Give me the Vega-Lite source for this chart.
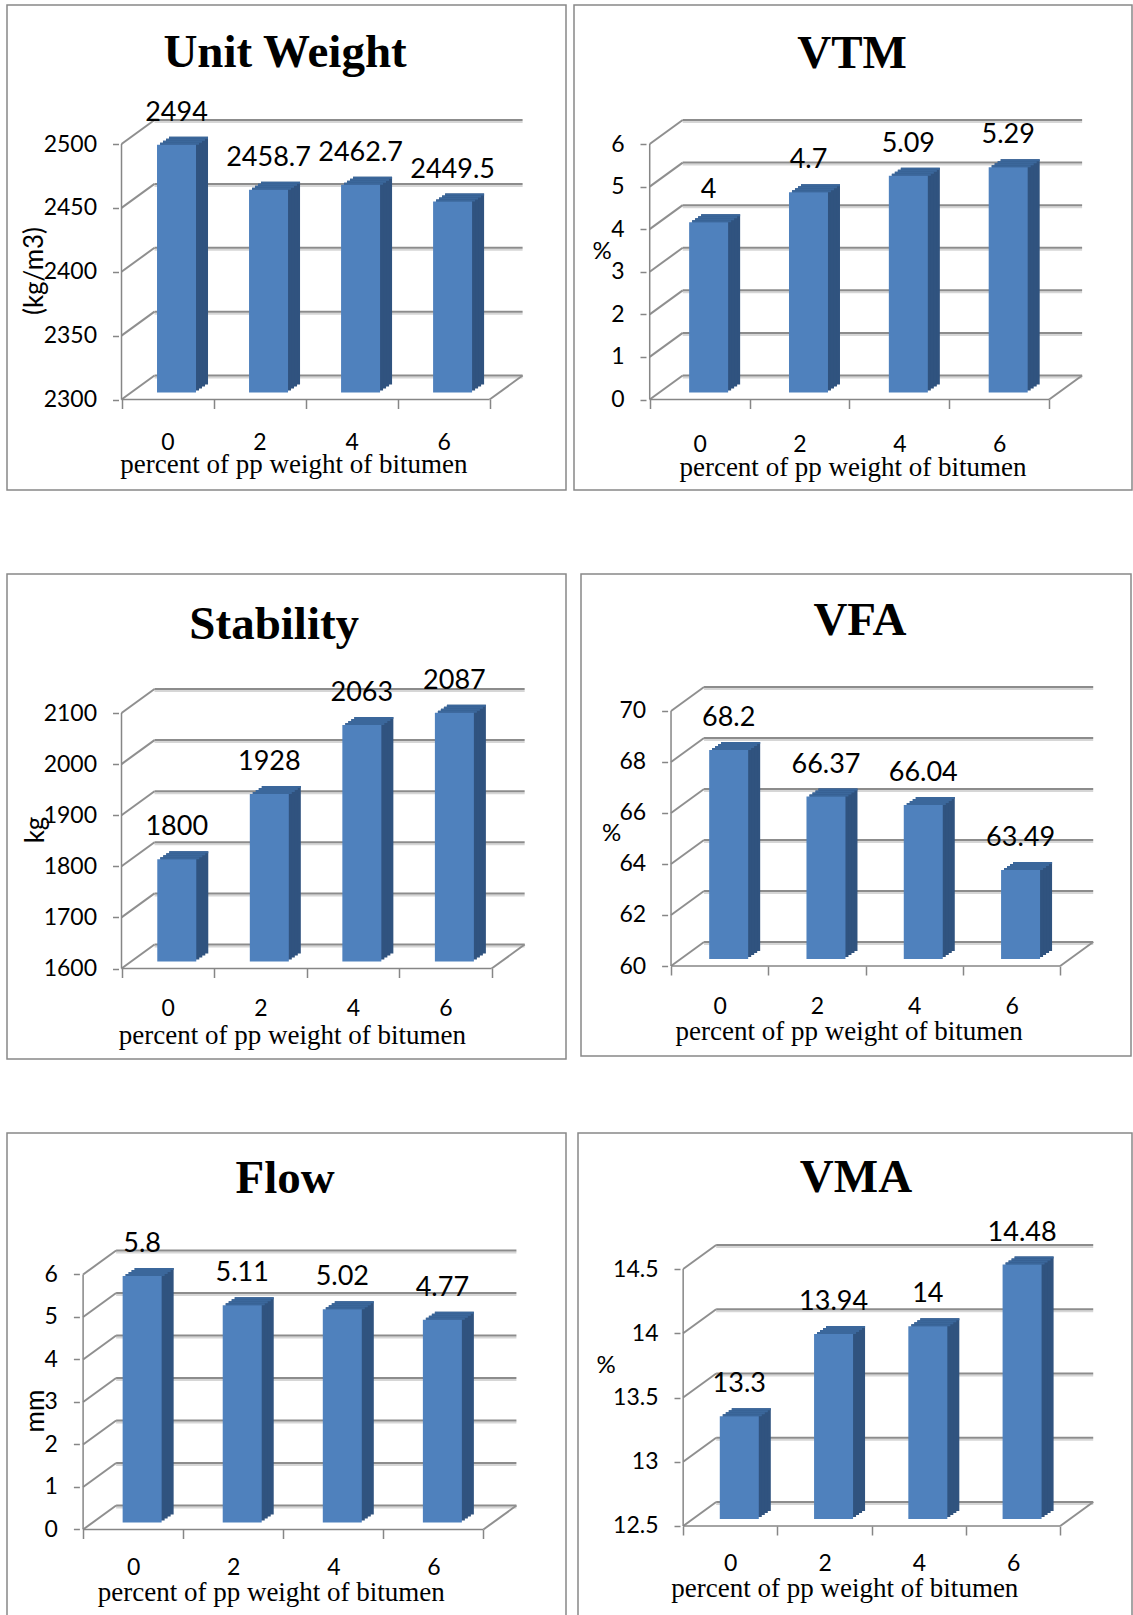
{
"$schema": "https://vega.github.io/schema/vega-lite/v6.json",
"background": "white",
"padding": {"left": 6, "top": 4, "right": 0, "bottom": 0},
"config": {
  "view": {"stroke": "#888888", "strokeWidth": 1.5},
  "axis": {"labelFont": "Lato", "labelFontSize": 23, "labelColor": "#000000", "tickColor": "#868686", "tickWidth": 1.5, "labelFlush": false, "labelOverlap": false}
},
"data": {"values": [
  {"chart": "Unit Weight", "pp": 0, "value": 2494},
  {"chart": "Unit Weight", "pp": 2, "value": 2458.7},
  {"chart": "Unit Weight", "pp": 4, "value": 2462.7},
  {"chart": "Unit Weight", "pp": 6, "value": 2449.5},
  {"chart": "VTM", "pp": 0, "value": 4},
  {"chart": "VTM", "pp": 2, "value": 4.7},
  {"chart": "VTM", "pp": 4, "value": 5.09},
  {"chart": "VTM", "pp": 6, "value": 5.29},
  {"chart": "Stability", "pp": 0, "value": 1800},
  {"chart": "Stability", "pp": 2, "value": 1928},
  {"chart": "Stability", "pp": 4, "value": 2063},
  {"chart": "Stability", "pp": 6, "value": 2087},
  {"chart": "VFA", "pp": 0, "value": 68.2},
  {"chart": "VFA", "pp": 2, "value": 66.37},
  {"chart": "VFA", "pp": 4, "value": 66.04},
  {"chart": "VFA", "pp": 6, "value": 63.49},
  {"chart": "Flow", "pp": 0, "value": 5.8},
  {"chart": "Flow", "pp": 2, "value": 5.11},
  {"chart": "Flow", "pp": 4, "value": 5.02},
  {"chart": "Flow", "pp": 6, "value": 4.77},
  {"chart": "VMA", "pp": 0, "value": 13.3},
  {"chart": "VMA", "pp": 2, "value": 13.94},
  {"chart": "VMA", "pp": 4, "value": 14},
  {"chart": "VMA", "pp": 6, "value": 14.48}
]},
"datasets": {"ticks": [
  {"chart": "Unit Weight", "t": 2300}, {"chart": "Unit Weight", "t": 2350}, {"chart": "Unit Weight", "t": 2400}, {"chart": "Unit Weight", "t": 2450}, {"chart": "Unit Weight", "t": 2500},
  {"chart": "VTM", "t": 0}, {"chart": "VTM", "t": 1}, {"chart": "VTM", "t": 2}, {"chart": "VTM", "t": 3}, {"chart": "VTM", "t": 4}, {"chart": "VTM", "t": 5}, {"chart": "VTM", "t": 6},
  {"chart": "Stability", "t": 1600}, {"chart": "Stability", "t": 1700}, {"chart": "Stability", "t": 1800}, {"chart": "Stability", "t": 1900}, {"chart": "Stability", "t": 2000}, {"chart": "Stability", "t": 2100},
  {"chart": "VFA", "t": 60}, {"chart": "VFA", "t": 62}, {"chart": "VFA", "t": 64}, {"chart": "VFA", "t": 66}, {"chart": "VFA", "t": 68}, {"chart": "VFA", "t": 70},
  {"chart": "Flow", "t": 0}, {"chart": "Flow", "t": 1}, {"chart": "Flow", "t": 2}, {"chart": "Flow", "t": 3}, {"chart": "Flow", "t": 4}, {"chart": "Flow", "t": 5}, {"chart": "Flow", "t": 6},
  {"chart": "VMA", "t": 12.5}, {"chart": "VMA", "t": 13}, {"chart": "VMA", "t": 13.5}, {"chart": "VMA", "t": 14}, {"chart": "VMA", "t": 14.5}
]},
"spacing": 82,
"vconcat": [
{"hconcat": [
{
 "width": 559, "height": 485,
 "transform": [{"filter": "datum.chart === 'Unit Weight'"}],
 "layer": [
  {"data": {"name": "ticks"}, "transform": [{"filter": "datum.chart === 'Unit Weight'"}],
   "mark": {"type": "rule", "color": "#d6d6d6", "strokeWidth": 2, "xOffset": 33, "x2Offset": 33, "yOffset": -22},
   "encoding": {
    "x": {"datum": -1, "type": "quantitative", "scale": {"domain": [-3.38, 8.5518], "nice": false, "zero": false},
          "axis": {"orient": "bottom", "offset": -90.5, "values": [-1,0,1,2,3,4,5,6,7], "domain": false, "grid": false, "tickSize": 9, "tickOpacity": {"condition": {"test": "datum.value % 2 === 0", "value": 0}, "value": 1}, "labelExpr": "datum.value % 2 === 0 ? datum.label : ''", "labelPadding": 23, "format": "~r", "title": null}},
    "x2": {"datum": 7},
    "y": {"field": "t", "type": "quantitative", "scale": {"domain": [2229.16, 2608.81], "nice": false, "zero": false},
          "axis": {"orient": "left", "offset": -111.5, "values": [2300,2350,2400,2450,2500], "domain": false, "grid": false, "tickSize": 6, "labelPadding": 16, "format": "~r", "title": null}}
   }},
  {"data": {"name": "ticks"}, "transform": [{"filter": "datum.chart === 'Unit Weight'"}],
   "mark": {"type": "rule", "color": "#8c8c8c", "strokeWidth": 2, "xOffset": 33, "x2Offset": 33, "yOffset": -24},
   "encoding": {"x": {"datum": -1, "type": "quantitative"}, "x2": {"datum": 7}, "y": {"field": "t", "type": "quantitative", "title": null}}},
  {"data": {"name": "ticks"}, "transform": [{"filter": "datum.chart === 'Unit Weight'"}],
   "mark": {"type": "point", "shape": "M0,0L33,-24", "size": 4, "filled": false, "color": "#8f8f8f", "strokeWidth": 2, "opacity": 1},
   "encoding": {"x": {"datum": -1, "type": "quantitative"}, "y": {"field": "t", "type": "quantitative", "title": null}}},
  {"data": {"name": "ticks"}, "transform": [{"filter": "datum.chart === 'Unit Weight' && datum.t === 2300"}],
   "mark": {"type": "point", "shape": "M0,0L33,-24", "size": 4, "filled": false, "color": "#8f8f8f", "strokeWidth": 2, "opacity": 1},
   "encoding": {"x": {"datum": 7, "type": "quantitative"}, "y": {"field": "t", "type": "quantitative", "title": null}}},
  {"data": {"name": "ticks"}, "transform": [{"filter": "datum.chart === 'Unit Weight' && datum.t === 2300"}],
   "mark": {"type": "rule", "color": "#868686", "strokeWidth": 1.5},
   "encoding": {"x": {"datum": -1, "type": "quantitative"}, "y": {"field": "t", "type": "quantitative", "title": null}, "y2": {"datum": 2500}}},
  {"data": {"name": "ticks"}, "transform": [{"filter": "datum.chart === 'Unit Weight' && datum.t === 2300"}],
   "mark": {"type": "rule", "color": "#868686", "strokeWidth": 1.5},
   "encoding": {"x": {"datum": -1, "type": "quantitative"}, "x2": {"datum": 7}, "y": {"field": "t", "type": "quantitative", "title": null}}},
  {"mark": {"type": "bar", "color": "#30537f", "size": 39, "xOffset": 21, "yOffset": -15, "y2Offset": -15},
   "encoding": {"x": {"field": "pp", "type": "quantitative", "title": null}, "y": {"field": "value", "type": "quantitative", "title": null}, "y2": {"datum": 2300}}},
  {"mark": {"type": "bar", "color": "#30537f", "size": 39, "xOffset": 18, "yOffset": -13, "y2Offset": -13},
   "encoding": {"x": {"field": "pp", "type": "quantitative", "title": null}, "y": {"field": "value", "type": "quantitative", "title": null}, "y2": {"datum": 2300}}},
  {"mark": {"type": "bar", "color": "#30537f", "size": 39, "xOffset": 15, "yOffset": -11, "y2Offset": -11},
   "encoding": {"x": {"field": "pp", "type": "quantitative", "title": null}, "y": {"field": "value", "type": "quantitative", "title": null}, "y2": {"datum": 2300}}},
  {"mark": {"type": "bar", "color": "#30537f", "size": 39, "xOffset": 12, "yOffset": -9, "y2Offset": -9},
   "encoding": {"x": {"field": "pp", "type": "quantitative", "title": null}, "y": {"field": "value", "type": "quantitative", "title": null}, "y2": {"datum": 2300}}},
  {"mark": {"type": "bar", "color": "#3b679b", "size": 39, "xOffset": 21, "yOffset": -15, "y2Offset": -13},
   "encoding": {"x": {"field": "pp", "type": "quantitative", "title": null}, "y": {"field": "value", "type": "quantitative", "title": null}, "y2": {"field": "value"}}},
  {"mark": {"type": "bar", "color": "#3b679b", "size": 39, "xOffset": 18, "yOffset": -13, "y2Offset": -11},
   "encoding": {"x": {"field": "pp", "type": "quantitative", "title": null}, "y": {"field": "value", "type": "quantitative", "title": null}, "y2": {"field": "value"}}},
  {"mark": {"type": "bar", "color": "#3b679b", "size": 39, "xOffset": 15, "yOffset": -11, "y2Offset": -9},
   "encoding": {"x": {"field": "pp", "type": "quantitative", "title": null}, "y": {"field": "value", "type": "quantitative", "title": null}, "y2": {"field": "value"}}},
  {"mark": {"type": "bar", "color": "#3b679b", "size": 39, "xOffset": 12, "yOffset": -9, "y2Offset": -7},
   "encoding": {"x": {"field": "pp", "type": "quantitative", "title": null}, "y": {"field": "value", "type": "quantitative", "title": null}, "y2": {"field": "value"}}},
  {"mark": {"type": "bar", "color": "#4f81bd", "size": 39, "xOffset": 9, "yOffset": -7, "y2Offset": -7},
   "encoding": {"x": {"field": "pp", "type": "quantitative", "title": null}, "y": {"field": "value", "type": "quantitative", "title": null}, "y2": {"datum": 2300}}},
  {"mark": {"type": "text", "font": "Lato", "fontSize": 27, "dx": 9, "dy": -39, "baseline": "middle", "color": "#000000"},
   "encoding": {"x": {"field": "pp", "type": "quantitative", "title": null}, "y": {"field": "value", "type": "quantitative", "title": null}, "text": {"field": "value", "type": "nominal"}}},
  {"transform": [{"filter": "datum.pp === 0"}],
   "mark": {"type": "text", "text": "Unit Weight", "font": "Liberation Serif", "fontWeight": "bold", "fontSize": 47, "align": "center", "baseline": "alphabetic", "color": "#000000"},
   "encoding": {"x": {"datum": 2.554, "type": "quantitative"}, "y": {"datum": 2559.89, "type": "quantitative"}}},
  {"transform": [{"filter": "datum.pp === 0"}],
   "mark": {"type": "text", "text": "(kg/m3)", "font": "Lato", "fontSize": 26, "angle": 270, "align": "center", "baseline": "middle", "color": "#000000"},
   "encoding": {"x": {"datum": -2.872, "type": "quantitative"}, "y": {"datum": 2400.59, "type": "quantitative"}}},
  {"transform": [{"filter": "datum.pp === 0"}],
   "mark": {"type": "text", "text": "percent of pp weight of bitumen", "font": "Liberation Serif", "fontSize": 27, "align": "center", "baseline": "alphabetic", "color": "#000000"},
   "encoding": {"x": {"datum": 2.746, "type": "quantitative"}, "y": {"datum": 2242.47, "type": "quantitative"}}}
 ]
},
{
 "width": 558, "height": 485,
 "transform": [{"filter": "datum.chart === 'VTM'"}],
 "layer": [
  {"data": {"name": "ticks"}, "transform": [{"filter": "datum.chart === 'VTM'"}],
   "mark": {"type": "rule", "color": "#d6d6d6", "strokeWidth": 2, "xOffset": 33, "x2Offset": 33, "yOffset": -22},
   "encoding": {
    "x": {"datum": -1, "type": "quantitative", "scale": {"domain": [-2.4163, 8.5599], "nice": false, "zero": false},
          "axis": {"orient": "bottom", "offset": -90.5, "values": [-1,0,1,2,3,4,5,6,7], "domain": false, "grid": false, "tickSize": 9, "tickOpacity": {"condition": {"test": "datum.value % 2 === 0", "value": 0}, "value": 1}, "labelExpr": "datum.value % 2 === 0 ? datum.label : ''", "labelPadding": 25, "format": "~r", "title": null}},
    "x2": {"datum": 7},
    "y": {"field": "t", "type": "quantitative", "scale": {"domain": [-2.1252, 9.2642], "nice": false, "zero": false},
          "axis": {"orient": "left", "offset": -72, "values": [0,1,2,3,4,5,6], "domain": false, "grid": false, "tickSize": 6, "labelPadding": 16, "format": "~r", "title": null}}
   }},
  {"data": {"name": "ticks"}, "transform": [{"filter": "datum.chart === 'VTM'"}],
   "mark": {"type": "rule", "color": "#8c8c8c", "strokeWidth": 2, "xOffset": 33, "x2Offset": 33, "yOffset": -24},
   "encoding": {"x": {"datum": -1, "type": "quantitative"}, "x2": {"datum": 7}, "y": {"field": "t", "type": "quantitative", "title": null}}},
  {"data": {"name": "ticks"}, "transform": [{"filter": "datum.chart === 'VTM'"}],
   "mark": {"type": "point", "shape": "M0,0L33,-24", "size": 4, "filled": false, "color": "#8f8f8f", "strokeWidth": 2, "opacity": 1},
   "encoding": {"x": {"datum": -1, "type": "quantitative"}, "y": {"field": "t", "type": "quantitative", "title": null}}},
  {"data": {"name": "ticks"}, "transform": [{"filter": "datum.chart === 'VTM' && datum.t === 0"}],
   "mark": {"type": "point", "shape": "M0,0L33,-24", "size": 4, "filled": false, "color": "#8f8f8f", "strokeWidth": 2, "opacity": 1},
   "encoding": {"x": {"datum": 7, "type": "quantitative"}, "y": {"field": "t", "type": "quantitative", "title": null}}},
  {"data": {"name": "ticks"}, "transform": [{"filter": "datum.chart === 'VTM' && datum.t === 0"}],
   "mark": {"type": "rule", "color": "#868686", "strokeWidth": 1.5},
   "encoding": {"x": {"datum": -1, "type": "quantitative"}, "y": {"field": "t", "type": "quantitative", "title": null}, "y2": {"datum": 6}}},
  {"data": {"name": "ticks"}, "transform": [{"filter": "datum.chart === 'VTM' && datum.t === 0"}],
   "mark": {"type": "rule", "color": "#868686", "strokeWidth": 1.5},
   "encoding": {"x": {"datum": -1, "type": "quantitative"}, "x2": {"datum": 7}, "y": {"field": "t", "type": "quantitative", "title": null}}},
  {"mark": {"type": "bar", "color": "#30537f", "size": 39, "xOffset": 21, "yOffset": -15, "y2Offset": -15},
   "encoding": {"x": {"field": "pp", "type": "quantitative", "title": null}, "y": {"field": "value", "type": "quantitative", "title": null}, "y2": {"datum": 0}}},
  {"mark": {"type": "bar", "color": "#30537f", "size": 39, "xOffset": 18, "yOffset": -13, "y2Offset": -13},
   "encoding": {"x": {"field": "pp", "type": "quantitative", "title": null}, "y": {"field": "value", "type": "quantitative", "title": null}, "y2": {"datum": 0}}},
  {"mark": {"type": "bar", "color": "#30537f", "size": 39, "xOffset": 15, "yOffset": -11, "y2Offset": -11},
   "encoding": {"x": {"field": "pp", "type": "quantitative", "title": null}, "y": {"field": "value", "type": "quantitative", "title": null}, "y2": {"datum": 0}}},
  {"mark": {"type": "bar", "color": "#30537f", "size": 39, "xOffset": 12, "yOffset": -9, "y2Offset": -9},
   "encoding": {"x": {"field": "pp", "type": "quantitative", "title": null}, "y": {"field": "value", "type": "quantitative", "title": null}, "y2": {"datum": 0}}},
  {"mark": {"type": "bar", "color": "#3b679b", "size": 39, "xOffset": 21, "yOffset": -15, "y2Offset": -13},
   "encoding": {"x": {"field": "pp", "type": "quantitative", "title": null}, "y": {"field": "value", "type": "quantitative", "title": null}, "y2": {"field": "value"}}},
  {"mark": {"type": "bar", "color": "#3b679b", "size": 39, "xOffset": 18, "yOffset": -13, "y2Offset": -11},
   "encoding": {"x": {"field": "pp", "type": "quantitative", "title": null}, "y": {"field": "value", "type": "quantitative", "title": null}, "y2": {"field": "value"}}},
  {"mark": {"type": "bar", "color": "#3b679b", "size": 39, "xOffset": 15, "yOffset": -11, "y2Offset": -9},
   "encoding": {"x": {"field": "pp", "type": "quantitative", "title": null}, "y": {"field": "value", "type": "quantitative", "title": null}, "y2": {"field": "value"}}},
  {"mark": {"type": "bar", "color": "#3b679b", "size": 39, "xOffset": 12, "yOffset": -9, "y2Offset": -7},
   "encoding": {"x": {"field": "pp", "type": "quantitative", "title": null}, "y": {"field": "value", "type": "quantitative", "title": null}, "y2": {"field": "value"}}},
  {"mark": {"type": "bar", "color": "#4f81bd", "size": 39, "xOffset": 9, "yOffset": -7, "y2Offset": -7},
   "encoding": {"x": {"field": "pp", "type": "quantitative", "title": null}, "y": {"field": "value", "type": "quantitative", "title": null}, "y2": {"datum": 0}}},
  {"mark": {"type": "text", "font": "Lato", "fontSize": 27, "dx": 9, "dy": -39, "baseline": "middle", "color": "#000000"},
   "encoding": {"x": {"field": "pp", "type": "quantitative", "title": null}, "y": {"field": "value", "type": "quantitative", "title": null}, "text": {"field": "value", "type": "nominal"}}},
  {"transform": [{"filter": "datum.pp === 0"}],
   "mark": {"type": "text", "text": "VTM", "font": "Liberation Serif", "fontWeight": "bold", "fontSize": 47, "align": "center", "baseline": "alphabetic", "color": "#000000"},
   "encoding": {"x": {"datum": 3.052, "type": "quantitative"}, "y": {"datum": 7.7847, "type": "quantitative"}}},
  {"transform": [{"filter": "datum.pp === 0"}],
   "mark": {"type": "text", "text": "%", "font": "Lato", "fontSize": 24, "align": "center", "baseline": "middle", "color": "#000000"},
   "encoding": {"x": {"datum": -1.954, "type": "quantitative"}, "y": {"datum": 3.4544, "type": "quantitative"}}},
  {"transform": [{"filter": "datum.pp === 0"}],
   "mark": {"type": "text", "text": "percent of pp weight of bitumen", "font": "Liberation Serif", "fontSize": 27, "align": "center", "baseline": "alphabetic", "color": "#000000"},
   "encoding": {"x": {"datum": 3.072, "type": "quantitative"}, "y": {"datum": -1.7964, "type": "quantitative"}}}
 ]
}
], "spacing": 6},
{"vconcat": [
{"hconcat": [
{
 "width": 559, "height": 485,
 "transform": [{"filter": "datum.chart === 'Stability'"}],
 "layer": [
  {"data": {"name": "ticks"}, "transform": [{"filter": "datum.chart === 'Stability'"}],
   "mark": {"type": "rule", "color": "#d6d6d6", "strokeWidth": 2, "xOffset": 33, "x2Offset": 33, "yOffset": -22},
   "encoding": {
    "x": {"datum": -1, "type": "quantitative", "scale": {"domain": [-3.3667, 8.4986], "nice": false, "zero": false},
          "axis": {"orient": "bottom", "offset": -90.5, "values": [-1,0,1,2,3,4,5,6,7], "domain": false, "grid": false, "tickSize": 9, "tickOpacity": {"condition": {"test": "datum.value % 2 === 0", "value": 0}, "value": 1}, "labelExpr": "datum.value % 2 === 0 ? datum.label : ''", "labelPadding": 20, "format": "~r", "title": null}},
    "x2": {"datum": 7},
    "y": {"field": "t", "type": "quantitative", "scale": {"domain": [1422.9, 2372.02], "nice": false, "zero": false},
          "axis": {"orient": "left", "offset": -111.5, "values": [1600,1700,1800,1900,2000,2100], "domain": false, "grid": false, "tickSize": 6, "labelPadding": 16, "format": "~r", "title": null}}
   }},
  {"data": {"name": "ticks"}, "transform": [{"filter": "datum.chart === 'Stability'"}],
   "mark": {"type": "rule", "color": "#8c8c8c", "strokeWidth": 2, "xOffset": 33, "x2Offset": 33, "yOffset": -24},
   "encoding": {"x": {"datum": -1, "type": "quantitative"}, "x2": {"datum": 7}, "y": {"field": "t", "type": "quantitative", "title": null}}},
  {"data": {"name": "ticks"}, "transform": [{"filter": "datum.chart === 'Stability'"}],
   "mark": {"type": "point", "shape": "M0,0L33,-24", "size": 4, "filled": false, "color": "#8f8f8f", "strokeWidth": 2, "opacity": 1},
   "encoding": {"x": {"datum": -1, "type": "quantitative"}, "y": {"field": "t", "type": "quantitative", "title": null}}},
  {"data": {"name": "ticks"}, "transform": [{"filter": "datum.chart === 'Stability' && datum.t === 1600"}],
   "mark": {"type": "point", "shape": "M0,0L33,-24", "size": 4, "filled": false, "color": "#8f8f8f", "strokeWidth": 2, "opacity": 1},
   "encoding": {"x": {"datum": 7, "type": "quantitative"}, "y": {"field": "t", "type": "quantitative", "title": null}}},
  {"data": {"name": "ticks"}, "transform": [{"filter": "datum.chart === 'Stability' && datum.t === 1600"}],
   "mark": {"type": "rule", "color": "#868686", "strokeWidth": 1.5},
   "encoding": {"x": {"datum": -1, "type": "quantitative"}, "y": {"field": "t", "type": "quantitative", "title": null}, "y2": {"datum": 2100}}},
  {"data": {"name": "ticks"}, "transform": [{"filter": "datum.chart === 'Stability' && datum.t === 1600"}],
   "mark": {"type": "rule", "color": "#868686", "strokeWidth": 1.5},
   "encoding": {"x": {"datum": -1, "type": "quantitative"}, "x2": {"datum": 7}, "y": {"field": "t", "type": "quantitative", "title": null}}},
  {"mark": {"type": "bar", "color": "#30537f", "size": 39, "xOffset": 21, "yOffset": -15, "y2Offset": -15},
   "encoding": {"x": {"field": "pp", "type": "quantitative", "title": null}, "y": {"field": "value", "type": "quantitative", "title": null}, "y2": {"datum": 1600}}},
  {"mark": {"type": "bar", "color": "#30537f", "size": 39, "xOffset": 18, "yOffset": -13, "y2Offset": -13},
   "encoding": {"x": {"field": "pp", "type": "quantitative", "title": null}, "y": {"field": "value", "type": "quantitative", "title": null}, "y2": {"datum": 1600}}},
  {"mark": {"type": "bar", "color": "#30537f", "size": 39, "xOffset": 15, "yOffset": -11, "y2Offset": -11},
   "encoding": {"x": {"field": "pp", "type": "quantitative", "title": null}, "y": {"field": "value", "type": "quantitative", "title": null}, "y2": {"datum": 1600}}},
  {"mark": {"type": "bar", "color": "#30537f", "size": 39, "xOffset": 12, "yOffset": -9, "y2Offset": -9},
   "encoding": {"x": {"field": "pp", "type": "quantitative", "title": null}, "y": {"field": "value", "type": "quantitative", "title": null}, "y2": {"datum": 1600}}},
  {"mark": {"type": "bar", "color": "#3b679b", "size": 39, "xOffset": 21, "yOffset": -15, "y2Offset": -13},
   "encoding": {"x": {"field": "pp", "type": "quantitative", "title": null}, "y": {"field": "value", "type": "quantitative", "title": null}, "y2": {"field": "value"}}},
  {"mark": {"type": "bar", "color": "#3b679b", "size": 39, "xOffset": 18, "yOffset": -13, "y2Offset": -11},
   "encoding": {"x": {"field": "pp", "type": "quantitative", "title": null}, "y": {"field": "value", "type": "quantitative", "title": null}, "y2": {"field": "value"}}},
  {"mark": {"type": "bar", "color": "#3b679b", "size": 39, "xOffset": 15, "yOffset": -11, "y2Offset": -9},
   "encoding": {"x": {"field": "pp", "type": "quantitative", "title": null}, "y": {"field": "value", "type": "quantitative", "title": null}, "y2": {"field": "value"}}},
  {"mark": {"type": "bar", "color": "#3b679b", "size": 39, "xOffset": 12, "yOffset": -9, "y2Offset": -7},
   "encoding": {"x": {"field": "pp", "type": "quantitative", "title": null}, "y": {"field": "value", "type": "quantitative", "title": null}, "y2": {"field": "value"}}},
  {"mark": {"type": "bar", "color": "#4f81bd", "size": 39, "xOffset": 9, "yOffset": -7, "y2Offset": -7},
   "encoding": {"x": {"field": "pp", "type": "quantitative", "title": null}, "y": {"field": "value", "type": "quantitative", "title": null}, "y2": {"datum": 1600}}},
  {"mark": {"type": "text", "font": "Lato", "fontSize": 27, "dx": 9, "dy": -39, "baseline": "middle", "color": "#000000"},
   "encoding": {"x": {"field": "pp", "type": "quantitative", "title": null}, "y": {"field": "value", "type": "quantitative", "title": null}, "text": {"field": "value", "type": "nominal"}}},
  {"transform": [{"filter": "datum.pp === 0"}],
   "mark": {"type": "text", "text": "Stability", "font": "Liberation Serif", "fontWeight": "bold", "fontSize": 47, "align": "center", "baseline": "alphabetic", "color": "#000000"},
   "encoding": {"x": {"datum": 2.3006, "type": "quantitative"}, "y": {"datum": 2243.84, "type": "quantitative"}}},
  {"transform": [{"filter": "datum.pp === 0"}],
   "mark": {"type": "text", "text": "kg", "font": "Lato", "fontSize": 26, "angle": 270, "align": "center", "baseline": "middle", "color": "#000000"},
   "encoding": {"x": {"datum": -2.857, "type": "quantitative"}, "y": {"datum": 1871.04, "type": "quantitative"}}},
  {"transform": [{"filter": "datum.pp === 0"}],
   "mark": {"type": "text", "text": "percent of pp weight of bitumen", "font": "Liberation Serif", "fontSize": 27, "align": "center", "baseline": "alphabetic", "color": "#000000"},
   "encoding": {"x": {"datum": 2.6933, "type": "quantitative"}, "y": {"datum": 1453.23, "type": "quantitative"}}}
 ]
},
{
 "width": 550, "height": 482,
 "transform": [{"filter": "datum.chart === 'VFA'"}],
 "layer": [
  {"data": {"name": "ticks"}, "transform": [{"filter": "datum.chart === 'VFA'"}],
   "mark": {"type": "rule", "color": "#d6d6d6", "strokeWidth": 2, "xOffset": 33, "x2Offset": 33, "yOffset": -22},
   "encoding": {
    "x": {"datum": -1, "type": "quantitative", "scale": {"domain": [-2.7478, 8.3522], "nice": false, "zero": false},
          "axis": {"orient": "bottom", "offset": -90, "values": [-1,0,1,2,3,4,5,6,7], "domain": false, "grid": false, "tickSize": 9, "tickOpacity": {"condition": {"test": "datum.value % 2 === 0", "value": 0}, "value": 1}, "labelExpr": "datum.value % 2 === 0 ? datum.label : ''", "labelPadding": 20, "format": "~r", "title": null}},
    "x2": {"datum": 7},
    "y": {"field": "t", "type": "quantitative", "scale": {"domain": [56.4706, 75.3725], "nice": false, "zero": false},
          "axis": {"orient": "left", "offset": -86.6, "values": [60,62,64,66,68,70], "domain": false, "grid": false, "tickSize": 6, "labelPadding": 16, "format": "~r", "title": null}}
   }},
  {"data": {"name": "ticks"}, "transform": [{"filter": "datum.chart === 'VFA'"}],
   "mark": {"type": "rule", "color": "#8c8c8c", "strokeWidth": 2, "xOffset": 33, "x2Offset": 33, "yOffset": -24},
   "encoding": {"x": {"datum": -1, "type": "quantitative"}, "x2": {"datum": 7}, "y": {"field": "t", "type": "quantitative", "title": null}}},
  {"data": {"name": "ticks"}, "transform": [{"filter": "datum.chart === 'VFA'"}],
   "mark": {"type": "point", "shape": "M0,0L33,-24", "size": 4, "filled": false, "color": "#8f8f8f", "strokeWidth": 2, "opacity": 1},
   "encoding": {"x": {"datum": -1, "type": "quantitative"}, "y": {"field": "t", "type": "quantitative", "title": null}}},
  {"data": {"name": "ticks"}, "transform": [{"filter": "datum.chart === 'VFA' && datum.t === 60"}],
   "mark": {"type": "point", "shape": "M0,0L33,-24", "size": 4, "filled": false, "color": "#8f8f8f", "strokeWidth": 2, "opacity": 1},
   "encoding": {"x": {"datum": 7, "type": "quantitative"}, "y": {"field": "t", "type": "quantitative", "title": null}}},
  {"data": {"name": "ticks"}, "transform": [{"filter": "datum.chart === 'VFA' && datum.t === 60"}],
   "mark": {"type": "rule", "color": "#868686", "strokeWidth": 1.5},
   "encoding": {"x": {"datum": -1, "type": "quantitative"}, "y": {"field": "t", "type": "quantitative", "title": null}, "y2": {"datum": 70}}},
  {"data": {"name": "ticks"}, "transform": [{"filter": "datum.chart === 'VFA' && datum.t === 60"}],
   "mark": {"type": "rule", "color": "#868686", "strokeWidth": 1.5},
   "encoding": {"x": {"datum": -1, "type": "quantitative"}, "x2": {"datum": 7}, "y": {"field": "t", "type": "quantitative", "title": null}}},
  {"mark": {"type": "bar", "color": "#30537f", "size": 39, "xOffset": 21, "yOffset": -15, "y2Offset": -15},
   "encoding": {"x": {"field": "pp", "type": "quantitative", "title": null}, "y": {"field": "value", "type": "quantitative", "title": null}, "y2": {"datum": 60}}},
  {"mark": {"type": "bar", "color": "#30537f", "size": 39, "xOffset": 18, "yOffset": -13, "y2Offset": -13},
   "encoding": {"x": {"field": "pp", "type": "quantitative", "title": null}, "y": {"field": "value", "type": "quantitative", "title": null}, "y2": {"datum": 60}}},
  {"mark": {"type": "bar", "color": "#30537f", "size": 39, "xOffset": 15, "yOffset": -11, "y2Offset": -11},
   "encoding": {"x": {"field": "pp", "type": "quantitative", "title": null}, "y": {"field": "value", "type": "quantitative", "title": null}, "y2": {"datum": 60}}},
  {"mark": {"type": "bar", "color": "#30537f", "size": 39, "xOffset": 12, "yOffset": -9, "y2Offset": -9},
   "encoding": {"x": {"field": "pp", "type": "quantitative", "title": null}, "y": {"field": "value", "type": "quantitative", "title": null}, "y2": {"datum": 60}}},
  {"mark": {"type": "bar", "color": "#3b679b", "size": 39, "xOffset": 21, "yOffset": -15, "y2Offset": -13},
   "encoding": {"x": {"field": "pp", "type": "quantitative", "title": null}, "y": {"field": "value", "type": "quantitative", "title": null}, "y2": {"field": "value"}}},
  {"mark": {"type": "bar", "color": "#3b679b", "size": 39, "xOffset": 18, "yOffset": -13, "y2Offset": -11},
   "encoding": {"x": {"field": "pp", "type": "quantitative", "title": null}, "y": {"field": "value", "type": "quantitative", "title": null}, "y2": {"field": "value"}}},
  {"mark": {"type": "bar", "color": "#3b679b", "size": 39, "xOffset": 15, "yOffset": -11, "y2Offset": -9},
   "encoding": {"x": {"field": "pp", "type": "quantitative", "title": null}, "y": {"field": "value", "type": "quantitative", "title": null}, "y2": {"field": "value"}}},
  {"mark": {"type": "bar", "color": "#3b679b", "size": 39, "xOffset": 12, "yOffset": -9, "y2Offset": -7},
   "encoding": {"x": {"field": "pp", "type": "quantitative", "title": null}, "y": {"field": "value", "type": "quantitative", "title": null}, "y2": {"field": "value"}}},
  {"mark": {"type": "bar", "color": "#4f81bd", "size": 39, "xOffset": 9, "yOffset": -7, "y2Offset": -7},
   "encoding": {"x": {"field": "pp", "type": "quantitative", "title": null}, "y": {"field": "value", "type": "quantitative", "title": null}, "y2": {"datum": 60}}},
  {"mark": {"type": "text", "font": "Lato", "fontSize": 27, "dx": 9, "dy": -39, "baseline": "middle", "color": "#000000"},
   "encoding": {"x": {"field": "pp", "type": "quantitative", "title": null}, "y": {"field": "value", "type": "quantitative", "title": null}, "text": {"field": "value", "type": "nominal"}}},
  {"transform": [{"filter": "datum.pp === 0"}],
   "mark": {"type": "text", "text": "VFA", "font": "Liberation Serif", "fontWeight": "bold", "fontSize": 47, "align": "center", "baseline": "alphabetic", "color": "#000000"},
   "encoding": {"x": {"datum": 2.883, "type": "quantitative"}, "y": {"datum": 72.9608, "type": "quantitative"}}},
  {"transform": [{"filter": "datum.pp === 0"}],
   "mark": {"type": "text", "text": "%", "font": "Lato", "fontSize": 24, "align": "center", "baseline": "middle", "color": "#000000"},
   "encoding": {"x": {"datum": -2.2231, "type": "quantitative"}, "y": {"datum": 65.1765, "type": "quantitative"}}},
  {"transform": [{"filter": "datum.pp === 0"}],
   "mark": {"type": "text", "text": "percent of pp weight of bitumen", "font": "Liberation Serif", "fontSize": 27, "align": "center", "baseline": "alphabetic", "color": "#000000"},
   "encoding": {"x": {"datum": 2.661, "type": "quantitative"}, "y": {"datum": 57.1176, "type": "quantitative"}}}
 ]
}
], "spacing": 13},
{"hconcat": [
{
 "width": 559, "height": 483,
 "transform": [{"filter": "datum.chart === 'Flow'"}],
 "layer": [
  {"data": {"name": "ticks"}, "transform": [{"filter": "datum.chart === 'Flow'"}],
   "mark": {"type": "rule", "color": "#d6d6d6", "strokeWidth": 2, "xOffset": 33, "x2Offset": 33, "yOffset": -22},
   "encoding": {
    "x": {"datum": -1, "type": "quantitative", "scale": {"domain": [-2.421, 8.5505], "nice": false, "zero": false},
          "axis": {"orient": "bottom", "offset": -86.5, "values": [-1,0,1,2,3,4,5,6,7], "domain": false, "grid": false, "tickSize": 9, "tickOpacity": {"condition": {"test": "datum.value % 2 === 0", "value": 0}, "value": 1}, "labelExpr": "datum.value % 2 === 0 ? datum.label : ''", "labelPadding": 18, "format": "~r", "title": null}},
    "x2": {"datum": 7},
    "y": {"field": "t", "type": "quantitative", "scale": {"domain": [-2.0353, 9.3294], "nice": false, "zero": false},
          "axis": {"orient": "left", "offset": -72.4, "values": [0,1,2,3,4,5,6], "domain": false, "grid": false, "tickSize": 6, "labelPadding": 16, "format": "~r", "title": null}}
   }},
  {"data": {"name": "ticks"}, "transform": [{"filter": "datum.chart === 'Flow'"}],
   "mark": {"type": "rule", "color": "#8c8c8c", "strokeWidth": 2, "xOffset": 33, "x2Offset": 33, "yOffset": -24},
   "encoding": {"x": {"datum": -1, "type": "quantitative"}, "x2": {"datum": 7}, "y": {"field": "t", "type": "quantitative", "title": null}}},
  {"data": {"name": "ticks"}, "transform": [{"filter": "datum.chart === 'Flow'"}],
   "mark": {"type": "point", "shape": "M0,0L33,-24", "size": 4, "filled": false, "color": "#8f8f8f", "strokeWidth": 2, "opacity": 1},
   "encoding": {"x": {"datum": -1, "type": "quantitative"}, "y": {"field": "t", "type": "quantitative", "title": null}}},
  {"data": {"name": "ticks"}, "transform": [{"filter": "datum.chart === 'Flow' && datum.t === 0"}],
   "mark": {"type": "point", "shape": "M0,0L33,-24", "size": 4, "filled": false, "color": "#8f8f8f", "strokeWidth": 2, "opacity": 1},
   "encoding": {"x": {"datum": 7, "type": "quantitative"}, "y": {"field": "t", "type": "quantitative", "title": null}}},
  {"data": {"name": "ticks"}, "transform": [{"filter": "datum.chart === 'Flow' && datum.t === 0"}],
   "mark": {"type": "rule", "color": "#868686", "strokeWidth": 1.5},
   "encoding": {"x": {"datum": -1, "type": "quantitative"}, "y": {"field": "t", "type": "quantitative", "title": null}, "y2": {"datum": 6}}},
  {"data": {"name": "ticks"}, "transform": [{"filter": "datum.chart === 'Flow' && datum.t === 0"}],
   "mark": {"type": "rule", "color": "#868686", "strokeWidth": 1.5},
   "encoding": {"x": {"datum": -1, "type": "quantitative"}, "x2": {"datum": 7}, "y": {"field": "t", "type": "quantitative", "title": null}}},
  {"mark": {"type": "bar", "color": "#30537f", "size": 39, "xOffset": 21, "yOffset": -15, "y2Offset": -15},
   "encoding": {"x": {"field": "pp", "type": "quantitative", "title": null}, "y": {"field": "value", "type": "quantitative", "title": null}, "y2": {"datum": 0}}},
  {"mark": {"type": "bar", "color": "#30537f", "size": 39, "xOffset": 18, "yOffset": -13, "y2Offset": -13},
   "encoding": {"x": {"field": "pp", "type": "quantitative", "title": null}, "y": {"field": "value", "type": "quantitative", "title": null}, "y2": {"datum": 0}}},
  {"mark": {"type": "bar", "color": "#30537f", "size": 39, "xOffset": 15, "yOffset": -11, "y2Offset": -11},
   "encoding": {"x": {"field": "pp", "type": "quantitative", "title": null}, "y": {"field": "value", "type": "quantitative", "title": null}, "y2": {"datum": 0}}},
  {"mark": {"type": "bar", "color": "#30537f", "size": 39, "xOffset": 12, "yOffset": -9, "y2Offset": -9},
   "encoding": {"x": {"field": "pp", "type": "quantitative", "title": null}, "y": {"field": "value", "type": "quantitative", "title": null}, "y2": {"datum": 0}}},
  {"mark": {"type": "bar", "color": "#3b679b", "size": 39, "xOffset": 21, "yOffset": -15, "y2Offset": -13},
   "encoding": {"x": {"field": "pp", "type": "quantitative", "title": null}, "y": {"field": "value", "type": "quantitative", "title": null}, "y2": {"field": "value"}}},
  {"mark": {"type": "bar", "color": "#3b679b", "size": 39, "xOffset": 18, "yOffset": -13, "y2Offset": -11},
   "encoding": {"x": {"field": "pp", "type": "quantitative", "title": null}, "y": {"field": "value", "type": "quantitative", "title": null}, "y2": {"field": "value"}}},
  {"mark": {"type": "bar", "color": "#3b679b", "size": 39, "xOffset": 15, "yOffset": -11, "y2Offset": -9},
   "encoding": {"x": {"field": "pp", "type": "quantitative", "title": null}, "y": {"field": "value", "type": "quantitative", "title": null}, "y2": {"field": "value"}}},
  {"mark": {"type": "bar", "color": "#3b679b", "size": 39, "xOffset": 12, "yOffset": -9, "y2Offset": -7},
   "encoding": {"x": {"field": "pp", "type": "quantitative", "title": null}, "y": {"field": "value", "type": "quantitative", "title": null}, "y2": {"field": "value"}}},
  {"mark": {"type": "bar", "color": "#4f81bd", "size": 39, "xOffset": 9, "yOffset": -7, "y2Offset": -7},
   "encoding": {"x": {"field": "pp", "type": "quantitative", "title": null}, "y": {"field": "value", "type": "quantitative", "title": null}, "y2": {"datum": 0}}},
  {"mark": {"type": "text", "font": "Lato", "fontSize": 27, "dx": 9, "dy": -39, "baseline": "middle", "color": "#000000"},
   "encoding": {"x": {"field": "pp", "type": "quantitative", "title": null}, "y": {"field": "value", "type": "quantitative", "title": null}, "text": {"field": "value", "type": "nominal"}}},
  {"transform": [{"filter": "datum.pp === 0"}],
   "mark": {"type": "text", "text": "Flow", "font": "Liberation Serif", "fontWeight": "bold", "fontSize": 47, "align": "center", "baseline": "alphabetic", "color": "#000000"},
   "encoding": {"x": {"datum": 3.0353, "type": "quantitative"}, "y": {"datum": 7.9059, "type": "quantitative"}}},
  {"transform": [{"filter": "datum.pp === 0"}],
   "mark": {"type": "text", "text": "mm", "font": "Lato", "fontSize": 26, "angle": 270, "align": "center", "baseline": "middle", "color": "#000000"},
   "encoding": {"x": {"datum": -1.95, "type": "quantitative"}, "y": {"datum": 2.7882, "type": "quantitative"}}},
  {"transform": [{"filter": "datum.pp === 0"}],
   "mark": {"type": "text", "text": "percent of pp weight of bitumen", "font": "Liberation Serif", "fontSize": 27, "align": "center", "baseline": "alphabetic", "color": "#000000"},
   "encoding": {"x": {"datum": 2.7605, "type": "quantitative"}, "y": {"datum": -1.6941, "type": "quantitative"}}}
 ]
},
{
 "width": 554, "height": 483,
 "transform": [{"filter": "datum.chart === 'VMA'"}],
 "layer": [
  {"data": {"name": "ticks"}, "transform": [{"filter": "datum.chart === 'VMA'"}],
   "mark": {"type": "rule", "color": "#d6d6d6", "strokeWidth": 2, "xOffset": 33, "x2Offset": 33, "yOffset": -22},
   "encoding": {
    "x": {"datum": -1, "type": "quantitative", "scale": {"domain": [-3.125, 8.4167], "nice": false, "zero": false},
          "axis": {"orient": "bottom", "offset": -90, "values": [-1,0,1,2,3,4,5,6,7], "domain": false, "grid": false, "tickSize": 9, "tickOpacity": {"condition": {"test": "datum.value % 2 === 0", "value": 0}, "value": 1}, "labelExpr": "datum.value % 2 === 0 ? datum.label : ''", "labelPadding": 17, "format": "~r", "title": null}},
    "x2": {"datum": 7},
    "y": {"field": "t", "type": "quantitative", "scale": {"domain": [11.7996, 15.5584], "nice": false, "zero": false},
          "axis": {"orient": "left", "offset": -102, "values": [12.5,13,13.5,14,14.5], "domain": false, "grid": false, "tickSize": 6, "labelPadding": 16, "format": "~r", "title": null}}
   }},
  {"data": {"name": "ticks"}, "transform": [{"filter": "datum.chart === 'VMA'"}],
   "mark": {"type": "rule", "color": "#8c8c8c", "strokeWidth": 2, "xOffset": 33, "x2Offset": 33, "yOffset": -24},
   "encoding": {"x": {"datum": -1, "type": "quantitative"}, "x2": {"datum": 7}, "y": {"field": "t", "type": "quantitative", "title": null}}},
  {"data": {"name": "ticks"}, "transform": [{"filter": "datum.chart === 'VMA'"}],
   "mark": {"type": "point", "shape": "M0,0L33,-24", "size": 4, "filled": false, "color": "#8f8f8f", "strokeWidth": 2, "opacity": 1},
   "encoding": {"x": {"datum": -1, "type": "quantitative"}, "y": {"field": "t", "type": "quantitative", "title": null}}},
  {"data": {"name": "ticks"}, "transform": [{"filter": "datum.chart === 'VMA' && datum.t === 12.5"}],
   "mark": {"type": "point", "shape": "M0,0L33,-24", "size": 4, "filled": false, "color": "#8f8f8f", "strokeWidth": 2, "opacity": 1},
   "encoding": {"x": {"datum": 7, "type": "quantitative"}, "y": {"field": "t", "type": "quantitative", "title": null}}},
  {"data": {"name": "ticks"}, "transform": [{"filter": "datum.chart === 'VMA' && datum.t === 12.5"}],
   "mark": {"type": "rule", "color": "#868686", "strokeWidth": 1.5},
   "encoding": {"x": {"datum": -1, "type": "quantitative"}, "y": {"field": "t", "type": "quantitative", "title": null}, "y2": {"datum": 14.5}}},
  {"data": {"name": "ticks"}, "transform": [{"filter": "datum.chart === 'VMA' && datum.t === 12.5"}],
   "mark": {"type": "rule", "color": "#868686", "strokeWidth": 1.5},
   "encoding": {"x": {"datum": -1, "type": "quantitative"}, "x2": {"datum": 7}, "y": {"field": "t", "type": "quantitative", "title": null}}},
  {"mark": {"type": "bar", "color": "#30537f", "size": 39, "xOffset": 21, "yOffset": -15, "y2Offset": -15},
   "encoding": {"x": {"field": "pp", "type": "quantitative", "title": null}, "y": {"field": "value", "type": "quantitative", "title": null}, "y2": {"datum": 12.5}}},
  {"mark": {"type": "bar", "color": "#30537f", "size": 39, "xOffset": 18, "yOffset": -13, "y2Offset": -13},
   "encoding": {"x": {"field": "pp", "type": "quantitative", "title": null}, "y": {"field": "value", "type": "quantitative", "title": null}, "y2": {"datum": 12.5}}},
  {"mark": {"type": "bar", "color": "#30537f", "size": 39, "xOffset": 15, "yOffset": -11, "y2Offset": -11},
   "encoding": {"x": {"field": "pp", "type": "quantitative", "title": null}, "y": {"field": "value", "type": "quantitative", "title": null}, "y2": {"datum": 12.5}}},
  {"mark": {"type": "bar", "color": "#30537f", "size": 39, "xOffset": 12, "yOffset": -9, "y2Offset": -9},
   "encoding": {"x": {"field": "pp", "type": "quantitative", "title": null}, "y": {"field": "value", "type": "quantitative", "title": null}, "y2": {"datum": 12.5}}},
  {"mark": {"type": "bar", "color": "#3b679b", "size": 39, "xOffset": 21, "yOffset": -15, "y2Offset": -13},
   "encoding": {"x": {"field": "pp", "type": "quantitative", "title": null}, "y": {"field": "value", "type": "quantitative", "title": null}, "y2": {"field": "value"}}},
  {"mark": {"type": "bar", "color": "#3b679b", "size": 39, "xOffset": 18, "yOffset": -13, "y2Offset": -11},
   "encoding": {"x": {"field": "pp", "type": "quantitative", "title": null}, "y": {"field": "value", "type": "quantitative", "title": null}, "y2": {"field": "value"}}},
  {"mark": {"type": "bar", "color": "#3b679b", "size": 39, "xOffset": 15, "yOffset": -11, "y2Offset": -9},
   "encoding": {"x": {"field": "pp", "type": "quantitative", "title": null}, "y": {"field": "value", "type": "quantitative", "title": null}, "y2": {"field": "value"}}},
  {"mark": {"type": "bar", "color": "#3b679b", "size": 39, "xOffset": 12, "yOffset": -9, "y2Offset": -7},
   "encoding": {"x": {"field": "pp", "type": "quantitative", "title": null}, "y": {"field": "value", "type": "quantitative", "title": null}, "y2": {"field": "value"}}},
  {"mark": {"type": "bar", "color": "#4f81bd", "size": 39, "xOffset": 9, "yOffset": -7, "y2Offset": -7},
   "encoding": {"x": {"field": "pp", "type": "quantitative", "title": null}, "y": {"field": "value", "type": "quantitative", "title": null}, "y2": {"datum": 12.5}}},
  {"mark": {"type": "text", "font": "Lato", "fontSize": 27, "dx": 9, "dy": -39, "baseline": "middle", "color": "#000000"},
   "encoding": {"x": {"field": "pp", "type": "quantitative", "title": null}, "y": {"field": "value", "type": "quantitative", "title": null}, "text": {"field": "value", "type": "nominal"}}},
  {"transform": [{"filter": "datum.pp === 0"}],
   "mark": {"type": "text", "text": "VMA", "font": "Liberation Serif", "fontWeight": "bold", "fontSize": 47, "align": "center", "baseline": "alphabetic", "color": "#000000"},
   "encoding": {"x": {"datum": 2.6667, "type": "quantitative"}, "y": {"datum": 15.0954, "type": "quantitative"}}},
  {"transform": [{"filter": "datum.pp === 0"}],
   "mark": {"type": "text", "text": "%", "font": "Lato", "fontSize": 24, "align": "center", "baseline": "middle", "color": "#000000"},
   "encoding": {"x": {"datum": -2.6333, "type": "quantitative"}, "y": {"datum": 13.745, "type": "quantitative"}}},
  {"transform": [{"filter": "datum.pp === 0"}],
   "mark": {"type": "text", "text": "percent of pp weight of bitumen", "font": "Liberation Serif", "fontSize": 27, "align": "center", "baseline": "alphabetic", "color": "#000000"},
   "encoding": {"x": {"datum": 2.4292, "type": "quantitative"}, "y": {"datum": 11.9436, "type": "quantitative"}}}
 ]
}
], "spacing": 10}
], "spacing": 72}
]
}
